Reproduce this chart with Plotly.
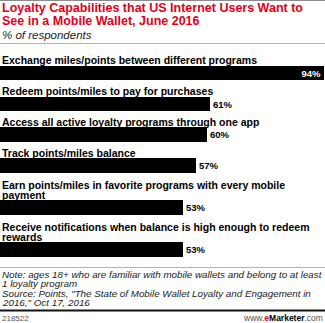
import textwrap
import plotly.graph_objects as go

# ---- data -------------------------------------------------------------
categories = [
    "Exchange miles/points between different programs",
    "Redeem points/miles to pay for purchases",
    "Access all active loyalty programs through one app",
    "Track points/miles balance",
    "Earn points/miles in favorite programs with every mobile payment",
    "Receive notifications when balance is high enough to redeem rewards",
]
values = [94, 61, 60, 57, 53, 53]
value_labels = [f"{v}%" for v in values]

title_lines = [
    "Loyalty Capabilities that US Internet Users Want to",
    "See in a Mobile Wallet, June 2016",
]
subtitle = "% of respondents"
note_lines = [
    "Note: ages 18+ who are familiar with mobile wallets and belong to at least",
    "1 loyalty program",
    "Source: Points, \"The State of Mobile Wallet Loyalty and Engagement in",
    "2016,\" Oct 17, 2016",
]
chart_id = "218522"

# ---- layout constants (y axis runs in screen pixels, top = 0) ----------
W, H = 325, 323
FONT = "Liberation Sans, Arial, sans-serif"
RED = "#e2001a"
BAR_H = 14.5
ROW_PITCH = 30.8
EXTRA_LINE = 11.2
LABEL_LINE = 10.0
X_MAX = 94.3

wrapped = [textwrap.wrap(c, 60) for c in categories]

centers = []
c = 73.0
for i, lines in enumerate(wrapped):
    if i > 0:
        c += ROW_PITCH + EXTRA_LINE * (len(lines) - 1)
    centers.append(c)

fig = go.Figure()
fig.add_trace(go.Bar(
    x=values,
    y=centers,
    orientation="h",
    width=BAR_H,
    marker=dict(color="#000000", line=dict(width=0)),
    text=value_labels,
    textposition=["inside" if v > 90 else "outside" for v in values],
    insidetextanchor="end",
    textfont=dict(family=FONT, size=9.5, color="#000000"),
    insidetextfont=dict(family=FONT, size=9.5, color="#ffffff"),
    outsidetextfont=dict(family=FONT, size=9.5, color="#000000"),
    texttemplate="<b>%{text}</b>",
    constraintext="none",
    cliponaxis=False,
    hoverinfo="skip",
))


def py(px):
    # screen pixel row -> paper coordinate
    return 1 - px / H


annotations = []


def add_line(text, baseline, size, color="#000000", x=0, xanchor="left"):
    # place a single text line so that its baseline lands on `baseline`
    annotations.append(dict(
        text=text, x=x, xref="paper", xanchor=xanchor,
        y=py(baseline + 1 + 0.42 * size), yref="paper", yanchor="bottom",
        showarrow=False, align="left", borderpad=1,
        font=dict(family=FONT, size=size, color=color),
    ))


# title + subtitle
for i, t in enumerate(title_lines):
    add_line(f"<b>{t}</b>", 11.2 + 12.6 * i, 12.5, RED)
add_line(f"<i>{subtitle}</i>", 37.5, 11.5, "#222222")

# category labels above each bar
for lines, cy in zip(wrapped, centers):
    last_base = cy - BAR_H / 2 - 3
    n = len(lines)
    for j, ln in enumerate(lines):
        add_line(f"<b>{ln}</b>", last_base - LABEL_LINE * (n - 1 - j), 10.5)

# notes
for i, t in enumerate(note_lines):
    add_line(f"<i>{t}</i>", 276.4 + 9.6 * i, 9.8, "#222222")

# footer
add_line(chart_id, 320.5, 8, "#555555")
add_line(
    "<span style='color:#555555'>www.</span>"
    f"<b><span style='color:{RED}'>e</span>Marketer</b>"
    "<span style='color:#555555'>.com</span>",
    320.5, 8.5, "#000000", x=1, xanchor="right",
)


def hline(px, color, width):
    return dict(type="line", xref="paper", yref="paper", x0=0, x1=1,
                y0=py(px), y1=py(px), line=dict(color=color, width=width))


shapes = [
    hline(0.5, "#8c8c8c", 1),
    hline(43.5, "#b4b4b4", 1),
    hline(267.5, "#b4b4b4", 1),
    hline(310.5, "#111111", 2),
]

fig.update_layout(
    width=W, height=H,
    margin=dict(l=0, r=0, t=0, b=0, pad=0),
    paper_bgcolor="#ffffff", plot_bgcolor="#ffffff",
    showlegend=False,
    bargap=0,
    xaxis=dict(range=[0, X_MAX], domain=[0, 1], visible=False, fixedrange=True),
    yaxis=dict(range=[H, 0], domain=[0, 1], visible=False, fixedrange=True),
    annotations=annotations,
    shapes=shapes,
)

fig.write_html("out.html", config={"displayModeBar": False})
